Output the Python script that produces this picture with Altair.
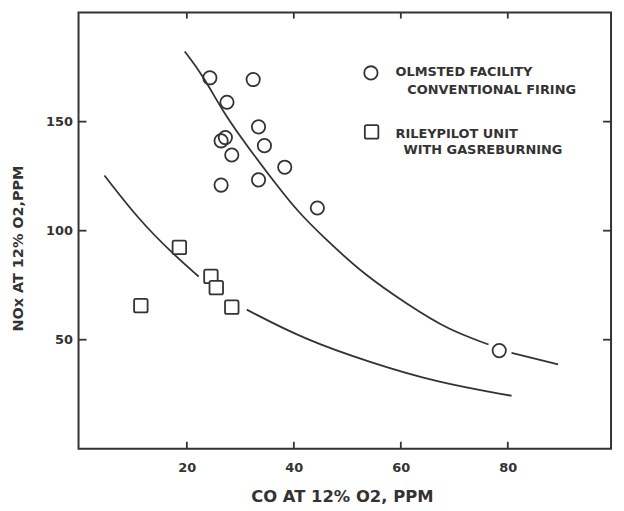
import altair as alt
import pandas as pd

# Olmsted facility, conventional firing (circles)
olmsted_co = [24.3, 32.4, 27.5, 33.4, 27.2, 26.4, 34.5, 28.4, 38.3, 33.4, 26.4, 44.4, 78.4]
olmsted_nox = [170.1, 169.3, 158.9, 147.6, 142.7, 141.2, 139.0, 134.7, 129.1, 123.3, 120.9, 110.4, 45.0]

# Riley pilot unit with gas reburning (squares)
riley_co = [18.6, 24.5, 25.5, 28.4, 11.4]
riley_nox = [92.3, 79.0, 73.9, 64.9, 65.6]

# fitted curves, split where the line is broken
upper_co = [19.6, 22.9, 27.2, 31.5, 37.1, 40.8, 45.8, 53.2, 61.3, 68.7, 76.4, 80.7, 89.4]
upper_nox = [182.2, 171.6, 152.6, 138.1, 119.9, 108.6, 96.4, 79.7, 66.1, 54.7, 47.8, 44.0, 38.7]
upper_seg = ["u1"] * 11 + ["u2"] * 2
lower_co = [4.6, 11.1, 17.3, 22.2, 31.2, 42.0, 54.4, 66.8, 80.7]
lower_nox = [125.3, 104.8, 89.6, 79.0, 63.8, 50.1, 39.5, 30.4, 24.3]
lower_seg = ["l1"] * 4 + ["l2"] * 5

x_ticks = [20, 40, 60, 80]
y_ticks = [50, 100, 150]

W, H = 536, 439
INK = "#333333"
FONT = "DejaVu Sans"

xs = alt.Scale(domain=[-0.25, 99.3], nice=False, zero=False)
ys = alt.Scale(domain=[0, 200], nice=False, zero=False)

x_axis = alt.Axis(values=x_ticks, ticks=False, tickSize=0, domain=False, grid=False,
                  labelFont=FONT, labelFontSize=13, labelFontWeight="bold", labelColor=INK,
                  labelPadding=13, title="CO AT 12% O2, PPM", titleFont=FONT,
                  titleFontSize=16.5, titleFontWeight="bold", titleColor=INK,
                  titleX=265, titleY=48, titleAlign="center", titleBaseline="middle")
y_axis = alt.Axis(values=y_ticks, ticks=False, tickSize=0, domain=False, grid=False,
                  labelFont=FONT, labelFontSize=13, labelFontWeight="bold", labelColor=INK,
                  labelPadding=6, title="NOx AT 12% O2,PPM", titleFont=FONT,
                  titleFontSize=14.5, titleFontWeight="bold", titleColor=INK,
                  titleX=-60, titleY=237, titleAngle=270, titleAlign="center",
                  titleBaseline="middle")

curves = pd.DataFrame({
    "co": upper_co + lower_co,
    "nox": upper_nox + lower_nox,
    "seg": upper_seg + lower_seg,
})
olm = pd.DataFrame({"co": olmsted_co, "nox": olmsted_nox})
ril = pd.DataFrame({"co": riley_co, "nox": riley_nox})
xt = pd.DataFrame({"v": x_ticks})
yt = pd.DataFrame({"v": y_ticks})
one = pd.DataFrame({"a": [0]})

lines = alt.Chart(curves).mark_line(color=INK, strokeWidth=1.8, interpolate="basis").encode(
    x=alt.X("co:Q", scale=xs, axis=x_axis),
    y=alt.Y("nox:Q", scale=ys, axis=y_axis),
    detail="seg:N",
)

circles = alt.Chart(olm).mark_point(shape="circle", size=180, filled=False, color=INK,
                                     strokeWidth=1.8, opacity=1).encode(
    x=alt.X("co:Q", scale=xs), y=alt.Y("nox:Q", scale=ys))

square_path = "M-1,-0.75Q-1,-1,-0.75,-1L0.75,-1Q1,-1,1,-0.75L1,0.75Q1,1,0.75,1L-0.75,1Q-1,1,-1,0.75Z"
squares = alt.Chart(ril).mark_point(shape=square_path, size=185, filled=True, fill="white",
                                     stroke=INK, strokeWidth=1.8, opacity=1).encode(
    x=alt.X("co:Q", scale=xs), y=alt.Y("nox:Q", scale=ys))

tick_style = dict(color=INK, strokeWidth=1.8)
bottom_ticks = alt.Chart(xt).mark_rule(**tick_style).encode(
    x=alt.X("v:Q", scale=xs), y=alt.value(H), y2=alt.value(H - 7))
top_ticks = alt.Chart(xt).mark_rule(**tick_style).encode(
    x=alt.X("v:Q", scale=xs), y=alt.value(0), y2=alt.value(6))
left_ticks = alt.Chart(yt).mark_rule(**tick_style).encode(
    y=alt.Y("v:Q", scale=ys), x=alt.value(0), x2=alt.value(8))
right_ticks = alt.Chart(yt).mark_rule(**tick_style).encode(
    y=alt.Y("v:Q", scale=ys), x=alt.value(W), x2=alt.value(W - 8))

leg_circle = alt.Chart(one).mark_point(shape="circle", size=180, filled=False, color=INK,
                                        strokeWidth=1.8, opacity=1).encode(
    x=alt.value(294.3), y=alt.value(60.7))
leg_square = alt.Chart(one).mark_point(shape=square_path, size=185, filled=False, color=INK,
                                        strokeWidth=1.8, opacity=1).encode(
    x=alt.value(295), y=alt.value(120))


def leg_text(txt, x, y):
    return alt.Chart(one).mark_text(text=txt, align="left", baseline="middle", font=FONT,
                                    fontSize=13, fontWeight="bold", color=INK).encode(
        x=alt.value(x), y=alt.value(y))


legend = (leg_circle + leg_square
          + leg_text("OLMSTED FACILITY", 319, 60.3)
          + leg_text("CONVENTIONAL FIRING", 331, 77.7)
          + leg_text("RILEYPILOT UNIT", 319, 122.7)
          + leg_text("WITH GASREBURNING", 327, 138.7))

chart = alt.layer(
    lines, circles, squares, bottom_ticks, top_ticks, left_ticks, right_ticks, legend
).properties(
    width=W, height=H,
    background="white",
    autosize=alt.AutoSizeParams(type="none"),
    padding={"left": 71, "top": 3, "right": 5, "bottom": 56},
).configure_view(stroke=INK, strokeWidth=2)

chart.save("out.html", embed_options={"renderer": "svg", "actions": False})
